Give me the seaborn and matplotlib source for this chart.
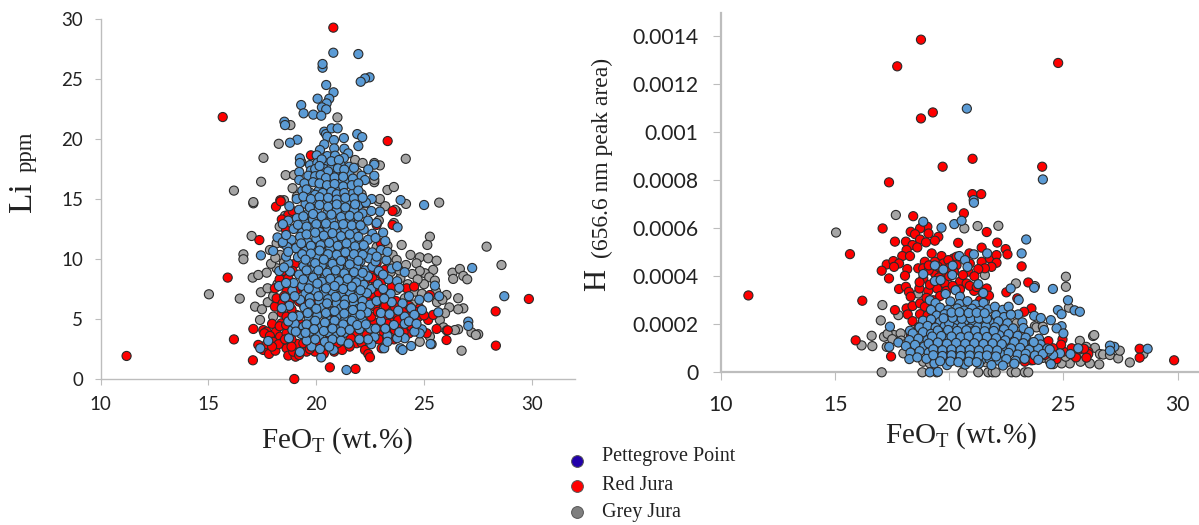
import matplotlib
matplotlib.use('Agg')
import matplotlib.pyplot as plt
from matplotlib.lines import Line2D
import seaborn as sns
import pandas as pd

sns.set_style('white')
plt.rcParams['mathtext.fontset'] = 'custom'
plt.rcParams['mathtext.rm'] = 'Liberation Serif'

# (FeO wt.%, Li ppm)
li_grey = [(15.02,7.06),(16.45,6.7),(17.16,6.03),(17.48,5.81),(17.39,4.92),(17.05,8.45),(17.31,8.67),(17.7,8.86),
    (17.43,7.23),(17.74,7.56),(17.0,11.92),(16.62,10.39),(16.62,9.98),(17.08,14.64),(17.85,10.75),(18.16,11.31),
    (18.45,11.3),(18.32,10.34),(18.16,9.23),(27.9,11.03),(28.59,9.5),(25.27,11.86),(25.15,11.17),(25.7,14.7),
    (24.16,14.59),(23.96,11.17),(24.37,10.34),(24.8,10.14),(25.19,10.06),(25.58,9.86),(24.65,9.64),(24.16,9.5),
    (25.42,9.09),(25.04,8.81),(25.24,8.48),(26.32,8.86),(26.66,9.17),(26.35,8.34),(26.82,8.59),(27.0,8.31),
    (26.04,7.0),(26.58,6.73),(26.82,5.89),(26.58,5.81),(26.17,5.97),(25.97,5.48),(25.73,4.92),(26.58,4.14),
    (26.43,4.08),(25.27,3.53),(27.2,3.89),(27.51,3.73),(27.4,3.67),(26.74,2.36),(23.54,10.34),(23.73,9.92),
    (24.57,7.28),(24.11,6.73),(23.1,10.34),(23.73,7.42),(22.26,14.64),(23.73,13.95),(23.65,14.1),(22.9,13.2),
    (18.8,21.16),(20.98,21.8),(18.26,19.6),(17.55,18.43),(18.58,16.99),(17.44,16.44),(16.18,15.7),(17.08,14.74),
    (18.5,14.9),(24.15,18.35),(22.95,17.8),(23.3,15.75),(23.6,16.0),(21.8,18.25),(22.15,18.0),(22.69,18.0),
    (22.69,16.4),(22.69,16.6),(18.97,17.0),(19.3,18.1),(21.9,17.2),(21.7,16.2),(24.8,9.0),(25.0,7.9),
    (24.5,6.2),(23.9,8.4),(23.4,9.5),(22.8,11.0),(18.0,5.2),(18.2,7.9),(18.5,9.7),(25.5,8.2),(25.9,4.3),(25.6,6.4),
    (23.3,11.1),(22.6,11.9),(23.45,8.9),(23.85,9.05),(24.45,8.75),(24.7,8.3),(25.55,7.3),(25.85,6.6),(26.05,4.05),
    (24.9,7.1),(24.25,7.9),(17.75,6.4),(18.0,6.9),(17.9,9.6),(18.1,10.1),(18.75,11.0),(18.3,12.7),(18.55,13.6),
    (22.9,14.8),(23.2,14.4),(22.95,15.0),(18.9,15.9),(19.1,15.2),(22.1,15.4),(23.6,13.0),(25.35,2.9),(24.8,3.1)]
li_red = [(20.79,29.28),(15.66,21.83),(23.31,19.83),(19.75,18.64),(18.33,14.9),(11.2,1.92),(16.18,3.3),(15.89,8.45),
    (17.06,1.56),(20.63,0.97),(21.82,0.84),(18.98,0.0),(29.86,6.67),(28.32,5.64),(28.33,2.78),(26.1,4.06),(26.04,3.25),
    (25.58,4.17),(17.36,11.58),(23.54,14.0),(23.54,12.84),(24.19,7.56),(24.54,7.7),(22.8,12.84),(18.96,10.95),(18.3,8.31),
    (18.13,14.36),(18.35,14.8),(18.7,13.67),(19.17,13.4),(17.08,4.17),(17.54,4.08),(17.7,3.95),(18.13,3.95),(18.39,4.64),
    (17.59,3.81),(17.85,3.59),(18.32,3.53),(18.62,3.81),(17.31,2.84),(17.54,2.42),(17.81,2.09),(18.1,2.36),(18.39,2.98),
    (18.62,2.56),(18.7,1.95),(19.04,1.86),(18.93,2.28),(19.12,2.92),(19.4,2.98),(19.55,2.28),(19.94,2.28),(20.83,2.28),
    (21.2,2.42),(21.87,2.98),(22.1,3.03),(22.26,2.42),(22.41,2.09),(22.49,1.81),(23.03,2.56),(21.87,3.81),(22.33,3.67),
    (23.11,3.95),(23.49,4.22),(23.65,4.08),(23.42,4.78),(23.96,4.42),(24.19,4.92),(24.57,4.78),(25.19,4.92),(25.12,3.81),
    (25.42,5.34),(25.27,7.0),(18.08,6.03),(18.16,6.73),(18.44,6.31),(18.75,6.36),(18.39,5.53),(18.62,5.2),(19.2,6.45),
    (19.08,5.34),(19.55,5.47),(20.0,6.3),(20.71,4.92),(22.8,9.64),(23.18,9.09),(22.72,8.95),(23.03,8.11),(22.64,6.86),
    (23.03,6.45),(22.72,6.03),(23.27,5.47),(23.73,5.34),(23.42,5.75),(22.95,6.59),(23.88,5.89),(24.42,5.34),(24.03,5.75),
    (21.25,10.48),(21.87,9.92),(21.56,10.2),(22.26,8.11),(18.62,7.28),(19.08,7.42),(19.39,7.56),(18.08,7.56),(18.7,8.4),
    (18.4,13.3),(18.9,14.0),(19.4,12.9),(18.6,12.4),(19.3,10.9),(19.0,9.6),(22.7,10.4),(23.0,11.3),(19.2,2.0),(20.4,2.6),
    (21.6,3.4),(24.8,5.9),(24.3,3.8),(20.1,3.1),(22.7,4.7),(23.2,5.0),(17.95,4.6),(18.85,3.3),(21.0,3.0),(22.05,4.3),
    (17.7,2.9),(18.0,3.1),(18.25,2.9),(18.55,3.3),(18.85,2.7),(17.95,2.7),(19.5,3.6),(19.7,2.5),(20.35,2.1),(20.6,3.3),
    (21.55,2.7),(22.65,3.3),(22.9,3.3),(23.3,3.4),(23.6,3.3),(23.0,4.4),(23.3,4.6),(23.8,4.9),(24.05,3.9),(24.4,4.4),
    (24.75,5.2),(24.6,5.6),(25.0,5.3),(23.2,6.1),(23.45,6.7),(23.7,6.5),(22.9,7.2),(23.2,7.2),(23.5,7.7),(22.7,7.7),
    (22.95,8.8),(22.5,9.1),(22.6,8.4),(18.3,4.4),(18.6,4.5),(18.9,4.7),(19.25,4.6),(18.5,6.9),(18.85,5.8),(19.4,6.2),
    (22.55,5.2),(22.85,5.6),(22.4,6.4),(23.65,6.0),(24.3,6.1),(21.9,6.5),(22.1,7.4),(19.5,8.6),(18.9,9.0),(18.45,9.0)]
li_blue = [(20.79,27.19),(21.95,27.08),(20.29,25.94),(20.29,26.25),(22.47,25.14),(22.26,25.05),(22.06,24.77),(20.46,24.5),
    (20.8,23.89),(20.06,23.36),(20.6,23.36),(20.48,22.97),(20.26,22.64),(20.46,22.47),(19.3,22.83),(19.41,22.14),(19.86,22.03),
    (20.23,21.94),(18.52,21.44),(18.55,21.16),(20.37,20.61),(20.45,20.41),(20.71,20.89),(20.99,20.89),(20.51,20.19),(20.82,19.91),
    (21.28,20.08),(21.9,20.41),(22.13,20.16),(21.95,19.41),(19.12,19.94),(18.78,19.69),(20.37,19.55),(20.17,19.08),(20.83,19.22),
    (21.3,19.19),(21.48,18.8),(19.24,18.39),(19.24,18.0),(20.02,18.64),(20.51,18.58),(20.87,18.61),(21.28,18.41),(22.69,17.86),
    (22.41,17.47),(22.1,16.94),(22.69,16.94),(22.26,16.58),(19.21,17.25),(19.21,16.58),(19.71,17.83),(19.75,17.36),(19.63,16.94),
    (20.45,17.97),(21.13,17.83),(21.53,17.69),(20.37,17.5),(20.87,17.22),(21.53,17.19),(20.71,17.61),(20.63,16.53),(21.08,16.53),
    (21.42,16.36),(20.37,16.02),(21.07,15.94),(20.11,15.69),(19.35,15.69),(19.71,15.53),(21.7,15.47),(22.57,15.0),(23.91,14.91),
    (19.09,15.0),(25.0,14.5),(22.95,13.95),(23.77,12.64),(18.2,11.8),(17.43,10.3),(18.0,10.67),(18.7,9.64),(18.28,9.0),
    (18.78,8.95),(18.27,7.75),(18.89,7.36),(27.23,9.25),(25.5,7.78),(28.72,6.9),(25.7,6.9),(25.2,6.8),(24.78,6.6),(25.66,5.56),
    (24.9,5.75),(27.05,4.78),(27.05,4.42),(24.9,4.14),(24.8,3.8),(25.3,2.92),(24.4,2.75),(23.9,2.56),(24.0,2.42),(23.15,2.56),
    (21.4,0.75),(20.23,1.8),(17.4,2.56),(17.77,3.17),(19.24,2.25),(18.73,3.4),(18.89,4.08),(19.78,2.7),(20.17,2.5),(20.8,2.42),
    (19.5,14.6),(19.9,14.9),(20.35,14.55),(20.75,14.9),(21.15,14.5),(21.55,14.85),(21.95,14.45),(22.3,14.7),(18.75,14.4),
    (19.2,14.1),(19.65,13.85),(20.05,14.15),(20.5,13.8),(20.95,14.05),(21.35,13.75),(21.75,14.1),(22.15,13.8),(22.55,14.0),
    (18.7,13.2),(19.1,13.4),(19.45,13.05),(19.85,13.3),(20.3,13.0),(20.7,13.25),(21.15,12.95),(21.55,13.3),(21.95,13.0),(22.4,13.2),
    (22.8,13.0),(18.95,12.5),(19.35,12.2),(19.75,12.6),(20.15,12.25),(20.55,12.55),(20.95,12.2),(21.35,12.5),(21.75,12.2),(22.2,12.45),
    (22.6,12.1),(23.1,12.2),(18.85,11.6),(19.25,11.85),(19.6,11.4),(20.0,11.7),(20.4,11.35),(20.8,11.65),(21.2,11.3),(21.6,11.6),
    (22.0,11.3),(22.4,11.6),(22.75,11.75),(23.2,11.5),(19.05,10.9),(19.5,10.65),(19.85,10.95),(20.25,10.6),(20.65,10.9),(21.05,10.6),
    (21.45,10.9),(21.85,10.6),(22.25,10.85),(22.6,10.55),(23.0,10.75),(18.6,10.2),(19.15,10.15),(19.7,9.85),(20.05,10.2),(20.45,9.85),
    (20.85,10.15),(21.25,9.8),(21.65,10.1),(22.05,9.8),(22.45,10.05),(23.25,9.9),(19.4,9.4),(19.85,9.1),(20.25,9.45),(20.65,9.1),
    (21.05,9.4),(21.45,9.05),(21.85,9.35),(22.25,9.05),(22.6,9.35),(23.5,9.2),(24.1,8.9),(19.2,8.7),(19.6,8.4),(20.0,8.75),
    (20.4,8.4),(20.8,8.7),(21.2,8.35),(21.6,8.65),(22.0,8.35),(22.4,8.55),(23.35,8.3),(23.75,8.15),(18.95,8.0),(19.35,7.75),
    (19.75,8.05),(20.2,7.7),(20.6,8.0),(21.0,7.65),(21.4,7.95),(21.8,7.6),(22.2,7.85),(22.55,7.5),(23.85,7.6),(24.3,6.9),
    (19.5,7.1),(19.95,7.35),(20.35,7.05),(20.75,7.3),(21.15,6.95),(21.55,7.25),(21.95,6.95),(22.35,7.15),(23.45,7.1),(24.0,6.3),
    (19.25,6.6),(19.7,6.75),(20.15,6.45),(20.55,6.65),(20.95,6.3),(21.35,6.6),(21.75,6.3),(22.15,6.5),(22.5,6.2),(23.5,6.4),
    (24.4,5.9),(19.45,5.95),(19.9,5.7),(20.3,5.95),(20.75,5.65),(21.15,5.9),(21.55,5.65),(21.95,5.85),(22.35,5.55),(24.1,5.2),
    (24.55,5.35),(19.2,5.25),(19.65,5.0),(20.05,5.3),(20.5,5.0),(20.95,5.25),(21.35,4.95),(21.8,5.2),(22.15,4.85),(23.0,4.85),
    (19.0,4.6),(19.4,4.35),(19.85,4.65),(20.25,4.35),(20.7,4.6),(21.15,4.3),(21.55,4.55),(22.0,4.15),(22.5,4.2),(23.6,4.5),
    (24.1,4.6),(24.55,3.95),(19.3,3.75),(19.7,3.95),(20.15,3.65),(20.55,3.9),(20.95,3.6),(21.3,3.85),(22.7,3.5),(23.3,3.6),
    (24.1,3.4),(19.55,3.2),(19.95,3.3),(20.4,3.1),(20.75,3.3),(21.15,3.2),(21.5,2.95),(22.55,2.9),(23.75,3.4),(20.6,2.7),
    (20.05,18.0),(20.25,18.3),(20.7,18.15),(21.05,18.25),(19.95,17.5),(20.15,17.75),(20.55,17.3),(21.0,17.55),(21.3,17.45),(21.75,17.6),
    (19.95,16.9),(20.2,17.0),(20.45,16.75),(20.85,16.8),(21.25,16.85),(21.7,16.7),(19.45,16.3),(19.85,16.4),(20.15,16.3),(20.5,16.15),
    (20.85,16.25),(21.25,16.05),(21.65,16.15),(21.95,16.3),(19.55,15.8),(19.95,15.35),(20.3,15.5),(20.7,15.6),(20.95,15.4),(21.3,15.5),
    (21.95,15.7),(19.4,15.2),(19.75,15.0),(20.15,15.15),(20.55,15.1),(20.95,14.95),(21.35,15.1),(21.75,15.05),(22.15,15.1),(19.7,14.3),
    (20.15,14.5),(20.55,14.35),(20.95,14.55),(21.35,14.3),(21.8,14.55),(19.4,13.55),(19.85,13.75),(20.25,13.55),(20.7,13.7),(21.15,13.5),
    (21.55,13.6),(21.95,13.55),(19.15,12.85),(19.55,12.7),(20.0,12.9),(20.45,12.95),(20.85,12.75),(21.25,12.9),(21.65,12.8),(22.05,12.8),
    (19.55,12.05),(19.95,12.2),(20.35,11.95),(20.75,12.15),(21.15,11.9),(21.55,12.05),(21.95,11.85),(19.3,11.3),(19.75,11.1),(20.2,11.15),
    (20.6,11.35),(21.0,11.1),(21.4,11.3),(21.8,11.05),(22.2,11.15),(19.35,10.4),(19.75,10.45),(20.15,10.7),(20.55,10.4),(20.95,10.35),
    (21.35,10.55),(21.75,10.4),(22.15,10.35),(19.5,9.95),(19.95,9.65),(20.35,9.95),(20.75,9.6),(21.15,9.85),(21.55,9.55),(21.95,9.85),
    (19.55,9.05),(20.1,9.05),(20.5,8.85),(20.9,9.05),(21.3,8.8),(21.75,8.9),(22.15,8.85),(19.4,8.3),(19.85,8.45),(20.25,8.1),(20.65,8.35),
    (21.05,8.15),(21.45,8.35),(21.85,8.05),(19.65,7.55),(20.05,7.95),(20.45,7.55),(20.85,7.75),(21.25,7.5),(21.65,7.7),(22.05,7.4),
    (19.7,6.3),(20.1,6.9),(20.5,6.3),(20.9,6.85),(21.3,6.2),(21.7,6.75),(22.1,6.0),(19.6,5.5),(20.0,5.85),(20.45,5.5),(20.85,5.65),
    (21.3,5.45),(21.7,5.75),(22.05,5.35),(19.55,4.55),(19.95,4.85),(20.4,4.7),(20.85,4.85),(21.25,4.55),(21.65,4.85),(19.5,3.85),
    (19.9,4.15),(20.35,4.0),(20.75,4.2),(21.15,3.95),(21.55,4.1),(21.9,4.5),(22.3,4.55),(22.75,4.2),(23.2,4.2),
    (18.65,11.0),(18.45,11.4),(18.5,9.3),(18.7,10.6),(18.6,8.0),(18.55,6.8),(19.0,6.9),(18.75,6.1),(18.7,4.8),(19.05,3.95),(18.4,5.9),
    (18.9,5.2),(18.45,12.9),(18.6,12.0),(22.75,9.8),(22.9,9.0),(23.1,8.7),(22.85,7.9),(23.1,7.5),(22.8,6.5),(23.15,6.7),(23.0,5.5),
    (23.4,5.4),(23.8,5.7),(24.3,4.8),(24.65,4.6),(23.85,3.9),(23.3,3.1),(22.4,3.3),(22.0,3.3),(23.3,10.6),(23.75,9.4),(22.8,10.2)]

# (FeO wt.%, H peak area in units of 1e-5)
h_grey = [(15.04,58.2),(17.66,65.5),(17.07,28),(17,21.6),(16.6,15.2),(16.16,11.2),(16.63,10.9),(17.14,14.8),(17.58,15.5),
    (17.87,16.2),(17.77,23.8),(17.26,10.6),(17.04,0),(18.82,0),(19.45,0),(20.58,0),(21.27,0),(21.71,0),(21.9,0),(22.03,0),
    (22.73,0),(22.92,0),(23.31,0),(23.46,0),(21.24,60.9),(22.15,61),(20.66,59.9),(22.92,37),(23.75,35.9),(25.11,39.8),
    (25.11,35.6),(25.24,26.9),(22.95,20.4),(23.75,19.2),(23.82,18.7),(25.72,13.1),(26.3,15.1),(26.35,15.5),(26.38,10.2),
    (26.6,7.6),(26.57,3.3),(26.16,3.7),(25.75,4.4),(26.74,7.4),(27.04,7.2),(27.4,5.8),(27.47,9),(27.91,4.1),(28.5,7.6),
    (25.28,3.7),(24.92,3.7),(21.56,29.4),(21.56,40.5),(18.64,32.8),(23.24,16.9),(18.86,4.4),(19.15,3.7),(17.99,7.9),(20.6,3.7),
    (23.2,6.5),(24.1,6.0),(24.55,3.4),(17.3,16.0),(17.5,13.8),(17.9,13.2),(18.1,11.8),(18.4,9.0),(24.6,8.0),(25.1,6.5),(25.9,8.0),
    (26.0,10.6),(25.5,8.9),(24.4,4.7),(23.6,5.0),(22.5,4.0),(21.6,4.2),(19.9,4.0),(22.6,13.0),(23.0,9.5),(24.1,19.0)]
h_red = [(18.76,138.5),(17.72,127.4),(24.77,128.8),(18.76,105.7),(19.28,108.2),(19.71,85.6),(21.02,88.9),(24.07,85.6),(17.36,79.1),
    (21.01,74.2),(21.4,74.2),(11.2,32),(15.65,49.2),(16.19,29.8),(15.9,13.3),(17.45,6.6),(17.08,59.9),(17.62,54.4),(18.42,65),
    (20.13,68.6),(20.64,66.2),(21.64,58.4),(20.39,53.9),(22.1,54),(21.42,51.9),(22.47,51.3),(22.55,49.1),(23.17,44.1),(23.46,37.4),
    (22.5,33.3),(22.98,30.8),(23.6,26.6),(23.28,25.2),(22.69,24.1),(29.85,5),(28.34,9.8),(28.34,6.1),(26.09,8.6),(26.09,7.6),
    (26.01,6.1),(25.55,6.2),(25.36,10),(24.96,13.7),(24.34,13),(24.55,10),(24.19,7.2),(23.31,4.4),(23.68,5.1),(25,8.6),
    (18.86,61.3),(19.04,60.6),(18.72,59.9),(18.31,58.5),(18.5,57.5),(19.09,57.8),(19.52,56.4),(18.72,55.3),(19.37,54.8),(18.98,54.1),
    (18.1,54.4),(18.39,53),(18.6,52),(18.13,50.9),(17.94,48.4),(18.28,48.4),(19.23,49.5),(19.66,48.4),(20.18,47.4),(20.88,49.5),
    (20.32,48.1),(17.26,44.9),(17.55,46.3),(17.8,45.3),(17.58,43.9),(17.04,42.3),(17.36,39.1),(18.16,43),(18.06,40.2),(18.64,43.3),
    (18.93,46),(18.86,43.3),(19.37,46),(19.74,45.3),(19.96,46.7),(20.32,44.6),(20.9,45.3),(21.42,46),(21.78,47.4),(22.07,48.8),
    (22.07,45.6),(21.85,43.9),(21.56,43.3),(21.27,43),(20.83,41.9),(19.37,41.2),(18.86,39.1),(19.37,37.7),(19.8,37),(20.47,37.7),
    (20.76,37),(17.8,34.7),(18.1,35.6),(18.23,33.5),(18.31,31.5),(18.69,34.9),(19.08,33.9),(19.47,34.9),(19.88,33.9),(20.47,34.5),
    (21.09,33.9),(21.64,34.9),(21.49,32.8),(21.74,31.9),(17.62,25.9),(18.13,26.6),(18.18,24.1),(18.39,27.6),(18.72,28.7),(18.93,27.3),
    (18.39,21.3),(18.72,24.2),(19.05,23.7),(18.66,18.8),(18.32,15.2),(19.3,30),(19.37,21.7),(21.42,26.6),(21.5,23.8),(21.78,21),
    (21.35,30),(19.1,42.5),(19.7,41.5),(20.2,42),(20.6,40.5),(21.1,40),(19.15,36.5),(19.55,39.5),(20.0,40),(18.7,37.5),(20.15,36),
    (20.9,36),(21.2,35.5),(19.0,31),(19.6,31.8),(19.5,44),(20.0,43.5),(19.1,44.5),(24.7,5.5),(25.7,9.5),(24.9,11.5),(25.9,9.8)]
h_blue = [(20.77,109.8),(24.1,80.3),(21.07,71.7),(18.86,62.7),(19.66,60.2),(20.22,61.7),(20.54,63.1),(21.08,70.6),(23.37,55.3),
    (23.17,49.5),(21.08,49.1),(21.66,49.5),(20.44,48.4),(20.69,46.7),(19.37,44.5),(20.15,44.4),(20.8,43.9),(19.74,42.8),(18.86,40.9),
    (20.13,40.5),(19.37,38),(19.62,38.4),(21.27,36.7),(22.69,34.9),(23.72,35.2),(24.54,34.7),(20.28,34.2),(21.49,33),(19.84,32.6),
    (20.47,31.5),(23.04,30.1),(19.15,30),(25.2,30),(25.49,25.8),(25.72,25.2),(24.76,25.9),(24.92,24.2),(23.02,24.1),(23.72,23.5),
    (24.01,22.6),(24.45,21.7),(24.92,19.2),(24.7,18.3),(25,16.2),(17.4,19),(18.28,17.3),(17.77,12.4),(17.37,10.6),(28.69,9.8),
    (27.23,10.6),(27.04,11.1),(27.04,9),(25.65,10),(25.31,7.6),(24.85,7.9),(24.55,7.2),(24.45,3.4),(24.31,8.6),(23.93,14),(24.15,17.6),
    (19.15,0),(19.5,0.2),(19.4,28.8),(20.05,29.5),(20.45,28.4),(20.8,29.6),(21.15,28.2),(21.5,28.9),(19.2,26),(19.6,26.9),(19.95,26),
    (20.35,26.6),(20.65,25.7),(21,26.5),(21.35,25.6),(21.7,26.2),(22,27.3),(22.35,26),(22.6,27.3),(19.45,23.6),(19.8,24.2),(20.15,23.4),
    (20.55,23.9),(20.9,23.2),(21.25,23.8),(21.6,23.1),(22.05,23.8),(22.4,23),(22.7,24),(18.85,21.5),(19.2,22),(19.6,21),(19.95,21.7),
    (20.35,20.9),(20.7,21.6),(21.05,20.8),(21.4,21.4),(21.8,20.6),(22.15,21.2),(22.55,20.4),(23.2,20.8),(18.7,18.7),(19.05,19.3),
    (19.4,18.6),(19.8,19.2),(20.2,18.4),(20.55,19),(20.9,18.2),(21.25,18.9),(21.65,18.1),(22,18.7),(22.4,17.9),(22.8,18.3),(23.25,18.4),
    (23.5,16.8),(18.4,16.2),(18.85,16.7),(19.2,16),(19.6,16.6),(20,15.8),(20.4,16.4),(20.75,15.6),(21.1,16.2),(21.5,15.5),(21.85,16.1),
    (22.2,15.4),(22.6,15.9),(23,15.2),(23.35,14.4),(18.25,13.4),(18.65,14),(19.05,13.4),(19.45,13.9),(19.85,13.2),(20.25,13.7),(20.6,13),
    (20.95,13.6),(21.35,12.9),(21.7,13.4),(22.1,12.7),(22.45,13.3),(22.85,12.6),(23.25,12.1),(23.65,12.4),(24,11.6),(18.1,10.9),(18.5,11.4),
    (18.9,10.7),(19.3,11.2),(19.7,10.5),(20.1,11),(20.45,10.3),(20.85,10.9),(21.2,10.2),(21.6,10.8),(22,10.1),(22.35,10.6),(22.7,9.9),
    (23.1,10.2),(23.5,9.4),(23.9,9.9),(24.3,9.9),(18.3,8.2),(18.7,8.8),(19.1,8.2),(19.5,8.7),(19.9,8),(20.3,8.5),(20.7,7.8),(21.1,8.4),
    (21.45,7.7),(21.85,8.3),(22.25,7.6),(22.6,8.1),(23,7.4),(23.35,7.7),(23.75,7),(24.1,7.6),(18.25,5.5),(18.6,6.2),(19,5.6),(19.4,6),
    (19.8,5.4),(20.2,5.9),(20.6,5.2),(21,5.8),(21.4,5.1),(21.75,5.6),(22.15,4.9),(22.5,5.5),(22.9,4.8),(23.3,5.6),(19.35,3.7),(19.9,3),
    (20.7,3.2),(21.3,3.6),(21.85,3),(22.35,2.8),(22.85,3.6),(23.9,5.2),(24.4,9.5),(23.7,12.6),(21.0,17.0),(20.0,20.3),(21.6,19.2),
    (19.75,22.5),(20.15,22.7),(20.55,22.3),(20.95,22.5),(21.3,22.4),(21.65,22.3),(20.1,24.9),(20.45,25),(20.85,24.7),(21.2,24.8),(21.55,24.6),
    (19.5,17.4),(19.95,17.6),(20.35,17.2),(20.75,17.5),(21.15,17.3),(21.55,17.1),(21.95,17.2),(19.25,14.9),(19.65,15.1),(20.1,14.9),
    (20.5,14.6),(20.85,14.9),(21.25,14.6),(21.65,14.7),(22.05,14.2),(19.1,12),(19.5,12.4),(19.9,11.9),(20.3,12.2),(20.7,11.9),(21.1,12.1),
    (21.5,11.8),(21.9,12),(22.3,11.7),(19.3,9.6),(19.7,9.2),(20.1,9.5),(20.5,9.2),(20.9,9.4),(21.3,9.1),(21.7,9.4),(22.1,9.1),(19.3,7.1),
    (19.7,6.8),(20.1,7.1),(20.5,6.8),(20.9,7),(21.3,6.7),(21.65,7),(22.05,6.6),(19.6,4.6),(20.05,4.5),(20.4,4.2),(20.85,4.4),(21.2,4.2)]
# legend text and colours
unit_names = ['Pettegrove Point', 'Red Jura', 'Grey Jura']
legend_colors = ['#2200AA', '#FF0000', '#7F7F7F']
palette = {'Pettegrove Point': '#5B9BD5', 'Red Jura': '#FF0000', 'Grey Jura': '#A5A5A5'}
li_ticks = [0, 5, 10, 15, 20, 25, 30]
h_ticks = [0, 0.0002, 0.0004, 0.0006, 0.0008, 0.001, 0.0012, 0.0014]
h_labels = ['0', '0.0002', '0.0004', '0.0006', '0.0008', '0.001', '0.0012', '0.0014']
feo_ticks = [10, 15, 20, 25, 30]


def make_frame(grey, red, blue, scale=1.0):
    frames = []
    for name, rows in [('Grey Jura', grey), ('Red Jura', red), ('Pettegrove Point', blue)]:
        d = pd.DataFrame(rows, columns=['feo', 'val'])
        d['val'] = d.val * scale
        d['unit'] = name
        frames.append(d)
    return pd.concat(frames, ignore_index=True)


def style_axes(ax, size, spine_w, tick_len, pad):
    sns.despine(ax=ax)
    for side in ['left', 'bottom']:
        ax.spines[side].set_color('#BDBDBD')
        ax.spines[side].set_linewidth(spine_w)
    ax.tick_params(axis='both', length=tick_len, width=0.8, color='#BDBDBD', bottom=True, left=True,
                   labelsize=size, labelcolor='#222222', pad=pad)
    for t in ax.get_xticklabels() + ax.get_yticklabels():
        t.set_family('Lato')
    ax.set_xlabel('')
    ax.set_ylabel('')


fig = plt.figure(figsize=(11.99, 5.25), dpi=100)
ax1 = fig.add_axes([100.7 / 1199, 1 - 379 / 525, 474.3 / 1199, 360 / 525])
ax2 = fig.add_axes([721 / 1199, 1 - 372.3 / 525, 478 / 1199, 359.3 / 525])

df_li = make_frame(li_grey, li_red, li_blue)
df_h = make_frame(h_grey, h_red, h_blue, scale=1e-5)
for ax, df in [(ax1, df_li), (ax2, df_h)]:
    sns.scatterplot(data=df, x='feo', y='val', hue='unit', palette=palette, s=43, edgecolor='#2a2a2a',
                    linewidth=0.8, legend=False, clip_on=False, zorder=3, ax=ax)

ax1.set_xlim(10, 32)
ax1.set_ylim(0, 30)
ax1.set_xticks(feo_ticks)
ax1.set_yticks(li_ticks)
style_axes(ax1, 13.5, 1.0, 4, 8.5)

ax2.set_xlim(10, 30.94)
ax2.set_ylim(0, 0.001496)
ax2.set_xticks(feo_ticks)
ax2.set_yticks(h_ticks)
ax2.set_yticklabels(h_labels)
style_axes(ax2, 15.2, 1.6, 5.8, 10.5)

serif = 'Liberation Serif'
ink = '#222222'
feo_label = r'FeO$_{\mathrm{T}}$ (wt.%)'
fig.text(337 / 1199, 1 - 448 / 525, feo_label, family=serif, size=21, ha='center', va='baseline', color=ink)
fig.text(961 / 1199, 1 - 443 / 525, feo_label, family=serif, size=21, ha='center', va='baseline', color=ink)


def side_label(txt, x, y, size):
    fig.text(x / 1199, 1 - y / 525, txt, family=serif, size=size, rotation=90, rotation_mode='anchor',
             ha='center', va='baseline', color=ink)


side_label('Li', 31, 197, 24)
side_label('ppm', 32, 152, 16.4)
side_label('H', 605, 280, 22)
side_label('(656.6 nm peak area)', 608, 158, 17)

# legend sits between the panels and its markers do not line up with the text rows
for name, c, y_txt, y_mark in zip(unit_names, legend_colors, [457, 485, 512], [461, 486, 512]):
    fig.add_artist(Line2D([577 / 1199], [1 - y_mark / 525], ls='', marker='o', ms=8.5, mfc=c, mec='#555555', mew=0.7,
                          transform=fig.transFigure))
    fig.text(602 / 1199, 1 - y_txt / 525, name, family=serif, size=14.5, ha='left', va='center', color=ink)

fig.savefig('out.png', dpi=100)
